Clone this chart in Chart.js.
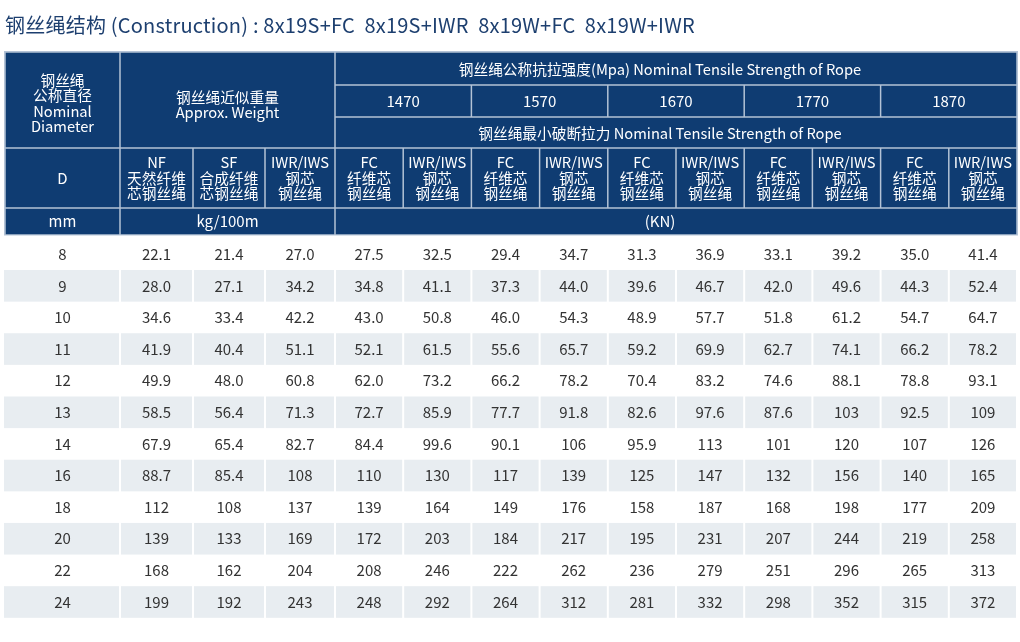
<!DOCTYPE html>
<html><head><meta charset="utf-8">
<script src="https://cdn.jsdelivr.net/npm/chart.js@4.4.1/dist/chart.umd.min.js"></script>
<style>html,body{margin:0;padding:0;background:#fff;}#wrap{width:1020px;height:642px;}</style>
</head><body><div id="wrap"><canvas id="c" width="1020" height="642"></canvas></div>
<script>
// ---------- data ----------
const titleText = '钢丝绳结构 (Construction) : 8x19S+FC  8x19S+IWR  8x19W+FC  8x19W+IWR';
const diameters = [8, 9, 10, 11, 12, 13, 14, 16, 18, 20, 22, 24];
const weightNF  = [22.1, 28.0, 34.6, 41.9, 49.9, 58.5, 67.9, 88.7, 112, 139, 168, 199];
const weightSF  = [21.4, 27.1, 33.4, 40.4, 48.0, 56.4, 65.4, 85.4, 108, 133, 162, 192];
const weightIWR = [27.0, 34.2, 42.2, 51.1, 60.8, 71.3, 82.7, 108, 137, 169, 204, 243];
const kn1470FC  = [27.5, 34.8, 43.0, 52.1, 62.0, 72.7, 84.4, 110, 139, 172, 208, 248];
const kn1470IWR = [32.5, 41.1, 50.8, 61.5, 73.2, 85.9, 99.6, 130, 164, 203, 246, 292];
const kn1570FC  = [29.4, 37.3, 46.0, 55.6, 66.2, 77.7, 90.1, 117, 149, 184, 222, 264];
const kn1570IWR = [34.7, 44.0, 54.3, 65.7, 78.2, 91.8, 106, 139, 176, 217, 262, 312];
const kn1670FC  = [31.3, 39.6, 48.9, 59.2, 70.4, 82.6, 95.9, 125, 158, 195, 236, 281];
const kn1670IWR = [36.9, 46.7, 57.7, 69.9, 83.2, 97.6, 113, 147, 187, 231, 279, 332];
const kn1770FC  = [33.1, 42.0, 51.8, 62.7, 74.6, 87.6, 101, 132, 168, 207, 251, 298];
const kn1770IWR = [39.2, 49.6, 61.2, 74.1, 88.1, 103, 120, 156, 198, 244, 296, 352];
const kn1870FC  = [35.0, 44.3, 54.7, 66.2, 78.8, 92.5, 107, 140, 177, 219, 265, 315];
const kn1870IWR = [41.4, 52.4, 64.7, 78.2, 93.1, 109, 126, 165, 209, 258, 313, 372];
const strengthGrades = ['1470', '1570', '1670', '1770', '1870'];

const hdrDiameter = ['钢丝绳', '公称直径', 'Nominal', 'Diameter'];
const hdrWeight = ['钢丝绳近似重量', 'Approx. Weight'];
const hdrStrength = '钢丝绳公称抗拉强度(Mpa) Nominal Tensile Strength of Rope';
const hdrBreaking = '钢丝绳最小破断拉力 Nominal Tensile Strength of Rope';
const hdrD = 'D';
const hdrNF = ['NF', '天然纤维', '芯钢丝绳'];
const hdrSF = ['SF', '合成纤维', '芯钢丝绳'];
const hdrIWR = ['IWR/IWS', '钢芯', '钢丝绳'];
const hdrFC = ['FC', '纤维芯', '钢丝绳'];
const unitMM = 'mm', unitKG = 'kg/100m', unitKN = '(KN)';

const columns = [diameters, weightNF, weightSF, weightIWR,
  kn1470FC, kn1470IWR, kn1570FC, kn1570IWR, kn1670FC, kn1670IWR,
  kn1770FC, kn1770IWR, kn1870FC, kn1870IWR];

// ---------- layout ----------
const colWidths = [115, 73, 72, 70, 68.2, 68.2, 68.2, 68.2, 68.2, 68.2, 68.2, 68.2, 68.2, 68.2];
const colEdges = [0];
colWidths.forEach(w => colEdges.push(colEdges[colEdges.length - 1] + w));
const totalW = colEdges[colEdges.length - 1];
const colCenter = c => (colEdges[c] + colEdges[c + 1]) / 2;
const spanCenterKN = 655;
const hdrRowY = [52, 85, 117, 148, 208, 235];
const FONT = '"Noto Sans CJK SC", "Noto Sans", sans-serif';
const BLUE = '#0f3c72', LINE = '#b4c3d6', GRAY = '#e8edf1', TXT = '#333333';
const HF = 14.7;

const fmtVal = (c, v) => c === 0 ? String(v) : (v < 100 ? v.toFixed(1) : String(v));

const tablePlugin = {
  id: 'tablePlugin',
  beforeDatasetsDraw(chart) {
    const ctx = chart.ctx, xs = chart.scales.x, ys = chart.scales.y;
    const half = (ys.getPixelForValue(1) - ys.getPixelForValue(0)) / 2;
    ctx.save();
    // title
    ctx.fillStyle = '#1d3f6f';
    ctx.font = '20px ' + FONT;
    ctx.textBaseline = 'middle';
    ctx.textAlign = 'left';
    if ('letterSpacing' in ctx) ctx.letterSpacing = '0.22px';
    ctx.fillText(titleText, xs.getPixelForValue(0), 25);
    if ('letterSpacing' in ctx) ctx.letterSpacing = '0px';
    // zebra rows
    diameters.forEach((d, i) => {
      if (i % 2 === 1) {
        const yc = ys.getPixelForValue(i);
        for (let c = 0; c < colWidths.length; c++) {
          const x0 = xs.getPixelForValue(colEdges[c]) + (c === 0 ? -1 : 1);
          const x1 = xs.getPixelForValue(colEdges[c + 1]) - 1;
          ctx.fillStyle = GRAY;
          ctx.fillRect(x0, yc - half, x1 - x0, half * 2);
        }
      }
    });
    // header background (line colour)
    const L = xs.getPixelForValue(0) - 1, R = xs.getPixelForValue(totalW) + 1;
    ctx.fillStyle = LINE;
    ctx.fillRect(L, hdrRowY[0] - 1, R - L, hdrRowY[5] - hdrRowY[0] + 1.5);
    const cell = (c0, c1, r0, r1) => {
      const x0 = xs.getPixelForValue(colEdges[c0]) + 0.75;
      const x1 = xs.getPixelForValue(colEdges[c1]) - 0.75;
      const y0 = hdrRowY[r0] + 0.75, y1 = hdrRowY[r1] - 0.75;
      ctx.fillStyle = BLUE;
      ctx.fillRect(x0, y0, x1 - x0, y1 - y0);
    };
    const text = (lines, cx, y0, lh, size) => {
      ctx.fillStyle = '#ffffff';
      ctx.font = size + 'px ' + FONT;
      ctx.textAlign = 'center';
      ctx.textBaseline = 'middle';
      (Array.isArray(lines) ? lines : [lines]).forEach((t, k) => ctx.fillText(t, cx, y0 + k * lh));
    };
    const cx = c => xs.getPixelForValue(colCenter(c));
    const spanX = (c0, c1) => (xs.getPixelForValue(colEdges[c0]) + xs.getPixelForValue(colEdges[c1])) / 2;
    // row 0-2 blocks
    cell(0, 1, 0, 3); text(hdrDiameter, cx(0), 80, 15.6, HF);
    cell(1, 4, 0, 3); text(hdrWeight, spanX(1, 4), 97, 15.6, HF);
    cell(4, 14, 0, 1); text(hdrStrength, xs.getPixelForValue(spanCenterKN), 69, 0, HF);
    strengthGrades.forEach((g, k) => {
      cell(4 + 2 * k, 6 + 2 * k, 1, 2);
      text(g, spanX(4 + 2 * k, 6 + 2 * k), 101, 0, 15);
    });
    cell(4, 14, 2, 3); text(hdrBreaking, xs.getPixelForValue(spanCenterKN), 133, 0, HF);
    // row 3 column headers
    cell(0, 1, 3, 4); text(hdrD, cx(0), 178, 0, 15);
    const subHdr = [hdrNF, hdrSF, hdrIWR];
    for (let c = 1; c < 14; c++) {
      cell(c, c + 1, 3, 4);
      const lines = c < 4 ? subHdr[c - 1] : (c % 2 === 0 ? hdrFC : hdrIWR);
      text(lines, cx(c), 162.5, 15.5, HF);
    }
    // row 4 units
    cell(0, 1, 4, 5); text(unitMM, cx(0), 221, 0, 15);
    cell(1, 4, 4, 5); text(unitKG, spanX(1, 4), 221, 0, 15);
    cell(4, 14, 4, 5); text(unitKN, xs.getPixelForValue(spanCenterKN), 221, 0, 15);
    ctx.restore();
  },
  afterDatasetsDraw(chart) {
    const ctx = chart.ctx;
    ctx.save();
    ctx.fillStyle = TXT;
    ctx.font = '15px ' + FONT;
    ctx.textAlign = 'center';
    ctx.textBaseline = 'middle';
    chart.data.datasets.forEach((ds, d) => {
      const meta = chart.getDatasetMeta(d);
      meta.data.forEach((pt, i) => {
        ctx.fillText(fmtVal(d, columns[d][i]), pt.x, pt.y);
      });
    });
    ctx.restore();
  }
};

const rowLabels = diameters.map(String);
const datasets = columns.map((vals, c) => ({
  label: 'col' + c,
  data: vals.map((v, i) => ({ x: colCenter(c), y: rowLabels[i] })),
  pointRadius: 0,
  pointHoverRadius: 0,
  showLine: false
}));

new Chart(document.getElementById('c'), {
  type: 'scatter',
  data: { datasets },
  options: {
    responsive: false,
    animation: false,
    events: [],
    layout: { padding: { left: 5, right: 3, top: 238.4, bottom: 24.2 } },
    plugins: { legend: { display: false }, tooltip: { enabled: false }, title: { display: false } },
    scales: {
      x: { type: 'linear', min: 0, max: totalW, display: false },
      y: { type: 'category', labels: rowLabels, offset: true, display: false }
    }
  },
  plugins: [tablePlugin]
});
</script>
</body></html>
